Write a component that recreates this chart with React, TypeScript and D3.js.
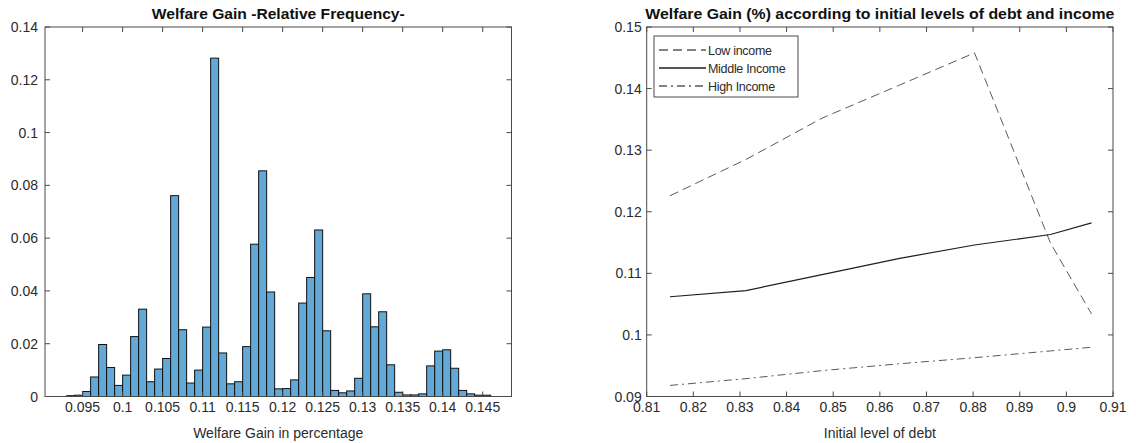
import React from "react";
import * as d3 from "d3";

// ---------- Left chart data (histogram, bin width 0.001) ----------
const binLowerEdges: number[] = [
  0.093, 0.094, 0.095, 0.096, 0.097, 0.098, 0.099, 0.1, 0.101, 0.102, 0.103, 0.104, 0.105,
  0.106, 0.107, 0.108, 0.109, 0.11, 0.111, 0.112, 0.113, 0.114, 0.115, 0.116, 0.117, 0.118,
  0.119, 0.12, 0.121, 0.122, 0.123, 0.124, 0.125, 0.126, 0.127, 0.128, 0.129, 0.13, 0.131,
  0.132, 0.133, 0.134, 0.135, 0.136, 0.137, 0.138, 0.139, 0.14, 0.141, 0.142, 0.143, 0.144,
  0.145,
];
const binWidth = 0.001;
const relFrequency: number[] = [
  0.0003, 0.0005, 0.0019, 0.0074, 0.0197, 0.011, 0.0042, 0.0081, 0.0227, 0.0331, 0.0056,
  0.0104, 0.0144, 0.0761, 0.0253, 0.0051, 0.01, 0.0263, 0.1282, 0.0165, 0.0048, 0.0056,
  0.0189, 0.0577, 0.0855, 0.0396, 0.0029, 0.003, 0.0063, 0.0354, 0.0451, 0.0631, 0.0249,
  0.0023, 0.0014, 0.0021, 0.0069, 0.0389, 0.0264, 0.0321, 0.012, 0.0016, 0.0006, 0.0006,
  0.001, 0.0116, 0.0172, 0.0177, 0.0107, 0.0023, 0.001, 0.0005, 0.0005,
];
const histXTicks: number[] = [0.095, 0.1, 0.105, 0.11, 0.115, 0.12, 0.125, 0.13, 0.135, 0.14, 0.145];
const histYTicks: number[] = [0, 0.02, 0.04, 0.06, 0.08, 0.1, 0.12, 0.14];

// ---------- Right chart data ----------
const debtLevels: number[] = [0.815, 0.8313, 0.8476, 0.864, 0.8803, 0.8966, 0.9054];
const lowIncome: number[] = [0.1226, 0.1285, 0.1352, 0.1405, 0.1458, 0.1149, 0.1034];
const middleIncome: number[] = [0.1062, 0.1072, 0.1098, 0.1124, 0.1146, 0.1163, 0.1182];
const highIncome: number[] = [0.0918, 0.0929, 0.0942, 0.0953, 0.0963, 0.0974, 0.098];
const lineXTicks: number[] = [0.81, 0.82, 0.83, 0.84, 0.85, 0.86, 0.87, 0.88, 0.89, 0.9, 0.91];
const lineYTicks: number[] = [0.09, 0.1, 0.11, 0.12, 0.13, 0.14, 0.15];
const seriesNames: string[] = ["Low income", "Middle Income", "High Income"];

const FONT = "'Liberation Sans', Arial, Helvetica, sans-serif";
const AXIS = "#4a4a4a";
const TEXT = "#2b2b2b";
const TICK = 5;

function Frame({ x0, x1, y0, y1 }: { x0: number; x1: number; y0: number; y1: number }) {
  return (
    <rect x={x0} y={y0} width={x1 - x0} height={y1 - y0} fill="none" stroke={AXIS} strokeWidth={1} />
  );
}

export default function App() {
  // Left chart scales
  const L = { x0: 45, x1: 511.5, y0: 27, y1: 396.5 };
  const hx = d3.scaleLinear().domain([0.0903, 0.1486]).range([L.x0, L.x1]);
  const hy = d3.scaleLinear().domain([0, 0.14]).range([L.y1, L.y0]);

  // Right chart scales
  const R = { x0: 646.7, x1: 1113, y0: 27, y1: 396.5 };
  const lx = d3.scaleLinear().domain([0.81, 0.91]).range([R.x0, R.x1]);
  const ly = d3.scaleLinear().domain([0.09, 0.15]).range([R.y1, R.y0]);
  const lineGen = d3
    .line<number>()
    .x((_, i) => lx(debtLevels[i]))
    .y((d) => ly(d));

  const series = [
    { name: seriesNames[0], values: lowIncome, dash: "9,5", color: "#5a5a5a", width: 1 },
    { name: seriesNames[1], values: middleIncome, dash: "", color: "#1e1e1e", width: 1.2 },
    { name: seriesNames[2], values: highIncome, dash: "8,4,2,4", color: "#5a5a5a", width: 1 },
  ];

  const fmt = (v: number) => String(+v.toFixed(3));

  return (
    <svg
      width={1136}
      height={443}
      style={{ position: "absolute", left: 0, top: 0, background: "#fff" }}
      fontFamily={FONT}
    >
      <rect x={0} y={0} width={1136} height={443} fill="#fff" />

      {/* ---------------- LEFT: histogram ---------------- */}
      <text
        x={(L.x0 + L.x1) / 2}
        y={19}
        textAnchor="middle"
        fontSize={15}
        fontWeight="bold"
        fill="#111"
        textLength={253}
        lengthAdjust="spacingAndGlyphs"
      >
        Welfare Gain -Relative Frequency-
      </text>
      {binLowerEdges.map((e, i) => (
        <rect
          key={i}
          x={hx(e)}
          y={hy(relFrequency[i])}
          width={hx(e + binWidth) - hx(e)}
          height={hy(0) - hy(relFrequency[i])}
          fill="#63a9d8"
          stroke="#111"
          strokeWidth={1}
        />
      ))}
      <Frame {...L} />
      {histXTicks.map((t) => (
        <g key={"hx" + t}>
          <line x1={hx(t)} x2={hx(t)} y1={L.y1} y2={L.y1 - TICK} stroke={AXIS} />
          <line x1={hx(t)} x2={hx(t)} y1={L.y0} y2={L.y0 + TICK} stroke={AXIS} />
          <text x={hx(t)} y={L.y1 + 15} textAnchor="middle" fontSize={14} fill={TEXT}>
            {fmt(t)}
          </text>
        </g>
      ))}
      {histYTicks.map((t) => (
        <g key={"hy" + t}>
          <line x1={L.x0} x2={L.x0 + TICK} y1={hy(t)} y2={hy(t)} stroke={AXIS} />
          <line x1={L.x1} x2={L.x1 - TICK} y1={hy(t)} y2={hy(t)} stroke={AXIS} />
          <text x={L.x0 - 7} y={hy(t) + 5} textAnchor="end" fontSize={14} fill={TEXT}>
            {fmt(t)}
          </text>
        </g>
      ))}
      <text x={(L.x0 + L.x1) / 2} y={438} textAnchor="middle" fontSize={14} fill={TEXT}>
        Welfare Gain in percentage
      </text>

      {/* ---------------- RIGHT: line chart ---------------- */}
      <text
        x={(R.x0 + R.x1) / 2}
        y={19}
        textAnchor="middle"
        fontSize={15}
        fontWeight="bold"
        fill="#111"
        textLength={469}
        lengthAdjust="spacingAndGlyphs"
      >
        Welfare Gain (%) according to initial levels of debt and income
      </text>
      {series.map((s) => (
        <path
          key={s.name}
          d={lineGen(s.values) || ""}
          fill="none"
          stroke={s.color}
          strokeWidth={s.width}
          strokeDasharray={s.dash || undefined}
        />
      ))}
      <Frame {...R} />
      {lineXTicks.map((t) => (
        <g key={"lx" + t}>
          <line x1={lx(t)} x2={lx(t)} y1={R.y1} y2={R.y1 - TICK} stroke={AXIS} />
          <line x1={lx(t)} x2={lx(t)} y1={R.y0} y2={R.y0 + TICK} stroke={AXIS} />
          <text x={lx(t)} y={R.y1 + 15} textAnchor="middle" fontSize={14} fill={TEXT}>
            {fmt(t)}
          </text>
        </g>
      ))}
      {lineYTicks.map((t) => (
        <g key={"ly" + t}>
          <line x1={R.x0} x2={R.x0 + TICK} y1={ly(t)} y2={ly(t)} stroke={AXIS} />
          <line x1={R.x1} x2={R.x1 - TICK} y1={ly(t)} y2={ly(t)} stroke={AXIS} />
          <text x={R.x0 - 5} y={ly(t) + 5} textAnchor="end" fontSize={14} fill={TEXT}>
            {fmt(t)}
          </text>
        </g>
      ))}
      <text x={(R.x0 + R.x1) / 2} y={438} textAnchor="middle" fontSize={14} fill={TEXT}>
        Initial level of debt
      </text>

      {/* Legend */}
      <g>
        <rect x={654} y={36} width={144} height={61} fill="#fff" stroke={AXIS} strokeWidth={1} />
        {series.map((s, i) => {
          const yy = 50 + i * 18;
          return (
            <g key={"lg" + s.name}>
              <line
                x1={659}
                x2={706}
                y1={yy}
                y2={yy}
                stroke={s.color}
                strokeWidth={s.width + 0.3}
                strokeDasharray={s.dash || undefined}
              />
              <text x={708} y={yy + 4.5} fontSize={12.5} fill={TEXT} letterSpacing={-0.3}>
                {s.name}
              </text>
            </g>
          );
        })}
      </g>
    </svg>
  );
}
